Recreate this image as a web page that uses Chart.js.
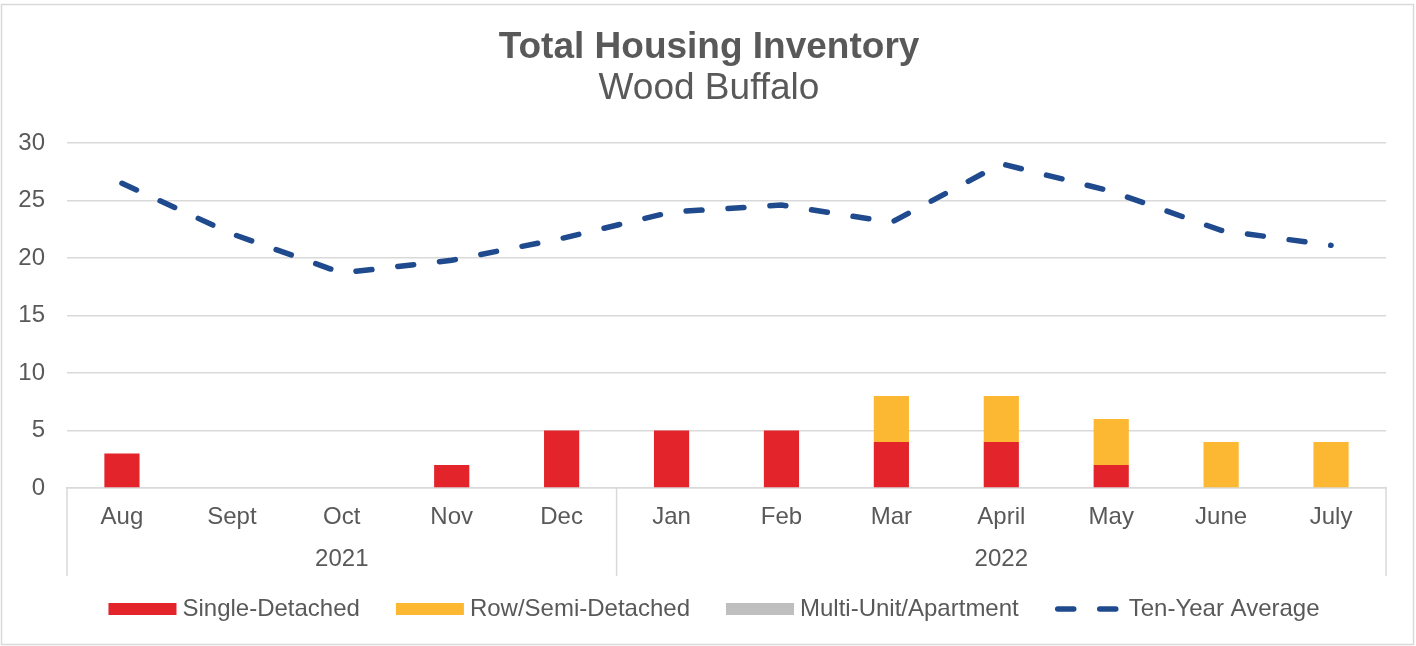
<!DOCTYPE html>
<html>
<head>
<meta charset="utf-8">
<title>Total Housing Inventory - Wood Buffalo</title>
<script src="https://cdn.jsdelivr.net/npm/chart.js@4.4.1/dist/chart.umd.min.js"></script>
<style>
  html, body { margin: 0; padding: 0; background: #fff; }
  #wrap { width: 1416px; height: 646px; position: relative; }
</style>
</head>
<body>
<div id="wrap"><canvas id="myChart" width="1416" height="646"></canvas></div>
<script>
// chart data
const months = ['Aug', 'Sept', 'Oct', 'Nov', 'Dec', 'Jan', 'Feb', 'Mar', 'April', 'May', 'June', 'July'];
const yearLabels = ['2021', '2022'];
const yearCounts = [5, 7];   // months in each year group

const singleDetached = [3, 0, 0, 2, 5, 5, 5, 4, 4, 2, 0, 0];
const rowSemi        = [0, 0, 0, 0, 0, 0, 0, 4, 4, 4, 4, 4];
const multiUnit      = [0, 0, 0, 0, 0, 0, 0, 0, 0, 0, 0, 0];
const tenYearAvg     = [26.5, 22.1, 18.7, 19.8, 21.7, 24.0, 24.6, 23.1, 28.2, 25.8, 22.4, 21.1];

const yTicks = [0, 5, 10, 15, 20, 25, 30];

const textColor = '#595959';
const gridColor = '#d9d9d9';
const fontFamily = '"Liberation Sans", Arial, sans-serif';

// draws the frame, titles, the year row under the months and the legend
const decorPlugin = {
    id: 'decor',
    beforeDraw(chart) {
        const ctx = chart.ctx;
        ctx.save();
        ctx.fillStyle = '#fff';
        ctx.fillRect(0, 0, chart.width, chart.height);
        ctx.strokeStyle = gridColor;
        ctx.lineWidth = 1.5;
        ctx.strokeRect(1.5, 4.5, chart.width - 4, chart.height - 6);
        ctx.restore();
    },
    afterDraw(chart) {
        const ctx = chart.ctx;
        const x = chart.scales.x;
        const area = chart.chartArea;
        ctx.save();

        // titles
        ctx.fillStyle = textColor;
        ctx.textAlign = 'center';
        ctx.textBaseline = 'alphabetic';
        ctx.font = 'bold 37px ' + fontFamily;
        ctx.fillText('Total Housing Inventory', 709, 58);
        ctx.font = '37px ' + fontFamily;
        ctx.fillText('Wood Buffalo', 709, 99);

        // year groups
        const half = (x.getPixelForValue(1) - x.getPixelForValue(0)) / 2;
        let start = 0;
        const edges = [x.getPixelForValue(0) - half];
        ctx.font = '24px ' + fontFamily;
        yearLabels.forEach((yr, i) => {
            const end = start + yearCounts[i] - 1;
            const left = x.getPixelForValue(start) - half;
            const right = x.getPixelForValue(end) + half;
            edges.push(right);
            ctx.fillText(yr, (left + right) / 2, 566);
            start = end + 1;
        });
        ctx.strokeStyle = gridColor;
        ctx.lineWidth = 1.5;
        edges.forEach(px => {
            ctx.beginPath();
            ctx.moveTo(px, area.bottom);
            ctx.lineTo(px, 576);
            ctx.stroke();
        });

        // legend
        const boxW = 68, boxH = 12, gapText = 6, gapItem = 36;
        const items = chart.data.datasets.slice().sort((a, b) => a.legendOrder - b.legendOrder);
        const widths = items.map(d => boxW + gapText + ctx.measureText(d.label).width);
        const total = widths.reduce((s, w) => s + w, 0) + gapItem * (items.length - 1);
        let lx = 714 - total / 2;
        const ly = 609;
        ctx.textAlign = 'left';
        items.forEach((d, i) => {
            if (d.type === 'line') {
                ctx.strokeStyle = d.borderColor;
                ctx.lineWidth = d.borderWidth;
                ctx.lineCap = 'round';
                ctx.setLineDash([16, 26]);
                ctx.beginPath();
                ctx.moveTo(lx + 3, ly);
                ctx.lineTo(lx + boxW - 3, ly);
                ctx.stroke();
                ctx.setLineDash([]);
            } else {
                ctx.fillStyle = d.backgroundColor;
                ctx.fillRect(lx, ly - boxH / 2, boxW, boxH);
            }
            ctx.fillStyle = textColor;
            ctx.fillText(d.label, lx + boxW + gapText, 616);
            lx += widths[i] + gapItem;
        });
        ctx.restore();
    }
};

const ctx = document.getElementById('myChart').getContext('2d');
new Chart(ctx, {
    data: {
        labels: months,
        datasets: [
            {
                type: 'line',
                label: 'Ten-Year Average',
                data: tenYearAvg,
                borderColor: '#1F4A8E',
                borderWidth: 5.5,
                borderDash: [16, 26],
                borderCapStyle: 'round',
                pointRadius: 0,
                tension: 0,
                fill: false,
                order: 0,
                legendOrder: 3
            },
            {
                type: 'bar',
                label: 'Single-Detached',
                data: singleDetached,
                backgroundColor: '#E3242B',
                order: 1,
                legendOrder: 0
            },
            {
                type: 'bar',
                label: 'Row/Semi-Detached',
                data: rowSemi,
                backgroundColor: '#FDB833',
                order: 1,
                legendOrder: 1
            },
            {
                type: 'bar',
                label: 'Multi-Unit/Apartment',
                data: multiUnit,
                backgroundColor: '#BFBFBF',
                order: 1,
                legendOrder: 2
            }
        ]
    },
    options: {
        responsive: false,
        animation: false,
        datasets: {
            bar: { categoryPercentage: 1.0, barPercentage: 0.32 }
        },
        layout: { padding: { top: 143, right: 30, bottom: 0, left: 0 } },
        plugins: {
            legend: { display: false },
            title: { display: false },
            tooltip: { enabled: false }
        },
        scales: {
            x: {
                stacked: true,
                grid: { display: false, drawTicks: false },
                border: { display: true, color: gridColor, width: 1.5 },
                ticks: {
                    color: textColor,
                    font: { family: fontFamily, size: 24 },
                    padding: 15,
                    maxRotation: 0,
                    autoSkip: false
                },
                afterFit(scale) { scale.height = 158; }
            },
            y: {
                stacked: true,
                min: 0,
                max: 30,
                afterBuildTicks(scale) { scale.ticks = yTicks.map(v => ({ value: v })); },
                grid: { color: gridColor, lineWidth: 1.5, drawTicks: false },
                border: { display: false },
                ticks: {
                    color: textColor,
                    font: { family: fontFamily, size: 24 },
                    padding: 22
                },
                afterFit(scale) { scale.width = 67; }
            }
        }
    },
    plugins: [decorPlugin]
});
</script>
</body>
</html>
